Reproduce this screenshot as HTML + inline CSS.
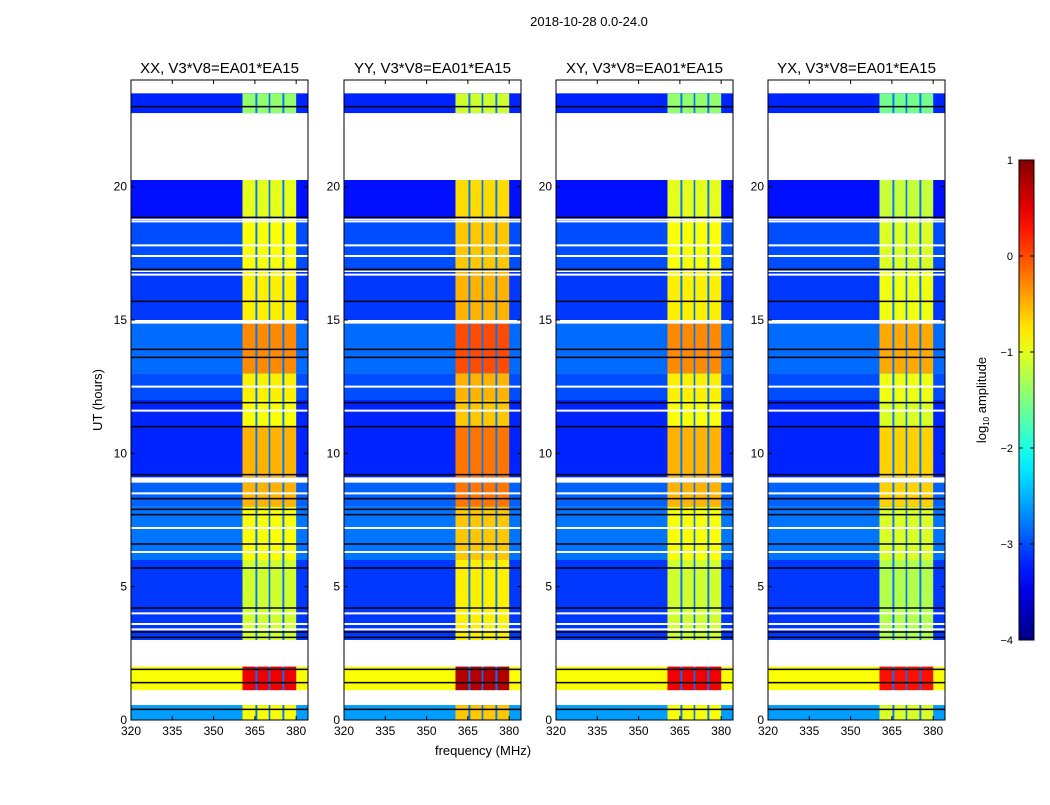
<!DOCTYPE html>
<html><head><meta charset="utf-8"><style>
body{margin:0;background:#fff;}
svg text{font-family:"Liberation Sans","DejaVu Sans",sans-serif;}
</style></head><body>
<svg id="fig" width="1050" height="800" viewBox="0 0 1050 800">
<defs>
<linearGradient id="jet" x1="0" y1="1" x2="0" y2="0"></linearGradient>
</defs>
<text x="589" y="26" font-size="13" text-anchor="middle">2018-10-28 0.0-24.0</text>
<g id="panels"></g>
<text x="483" y="755" font-size="13" text-anchor="middle">frequency (MHz)</text>
<text transform="translate(102,400) rotate(-90)" font-size="13" text-anchor="middle">UT (hours)</text>
<g>
<rect x="1019" y="160" width="15" height="480" fill="url(#jet)" stroke="#000" stroke-width="1"/>
<g id="cbticks"></g>
<text transform="translate(986,400) rotate(-90)" font-size="13" text-anchor="middle">log<tspan font-size="8" dy="3">10</tspan><tspan dy="-3"> amplitude</tspan></text>
</g>
</svg>
<script>
const panelTitles=["XX, V3*V8=EA01*EA15","YY, V3*V8=EA01*EA15","XY, V3*V8=EA01*EA15","YX, V3*V8=EA01*EA15"];
const panelLeft=[131,344,556,768];
const rfiOffset=[0,0.3,0,-0.15];
const xTicks=[320,335,350,365,380];
const yTicks=[0,5,10,15,20];
const cbTicks=[1,0,-1,-2,-3,-4];
// time segments: [start hour, end hour, background log amp, rfi log amp]
const segStart=[22.76,18.80,16.85,15.00,13.00,12.00,11.00,9.10,8.00,6.00,3.00,1.12,0.00];
const segEnd  =[23.50,20.25,18.75,16.80,14.90,13.00,12.00,11.00,8.90,8.00,6.00,2.00,0.56];
const segBg   =[-3.2,-3.3,-3.0,-3.1,-2.85,-3.0,-3.2,-3.2,-2.9,-2.8,-3.1,-0.9,-2.6];
const segRfi  =[-1.4,-1.0,-0.9,-0.8,-0.3,-0.8,-0.9,-0.5,-0.5,-0.9,-1.1,0.45,-0.9];
// RFI channel blocks (MHz)
const rfiStart=[360.5,365.9,370.6,375.7];
const rfiEnd  =[365.2,370.0,375.0,380.0];
const blackLines=[23.0,18.85,16.9,15.7,13.9,13.6,11.9,11.0,9.2,8.3,7.9,7.7,6.6,5.7,4.2,3.3,3.1,1.9,1.4,0.4];
const whiteLines=[18.7,17.8,17.4,16.7,14.9,12.5,11.6,8.5,7.2,6.3,4.0,3.6,3.4];

const W=177,TOP=80,BOT=720,F0=320,F1=384.3,T0=0,T1=24;
const NS='http://www.w3.org/2000/svg';
function jet(v){let t=Math.max(0,Math.min(1,(v+4)/5));
 const r=Math.max(0,Math.min(1,1.5-Math.abs(4*t-3))),g=Math.max(0,Math.min(1,1.5-Math.abs(4*t-2))),b=Math.max(0,Math.min(1,1.5-Math.abs(4*t-1)));
 return `rgb(${Math.round(r*255)},${Math.round(g*255)},${Math.round(b*255)})`;}
function el(tag,attrs,parent){const e=document.createElementNS(NS,tag);for(const k in attrs)e.setAttribute(k,attrs[k]);parent.appendChild(e);return e;}
const grad=document.getElementById('jet');
for(let i=0;i<=20;i++){el('stop',{offset:i/20,'stop-color':jet(-4+5*i/20)},grad);}
const yS=t=>BOT-(t-T0)/(T1-T0)*(BOT-TOP);
const root=document.getElementById('panels');
panelTitles.forEach((title,p)=>{
 const L=panelLeft[p];const xS=f=>L+(f-F0)/(F1-F0)*W;
 const g=el('g',{},root);
 
 
 const hm=el('g',{},g);
 
 
 segStart.forEach((s,i)=>{
  const y0=yS(segEnd[i]),y1=yS(s);
  const r=el('rect',{x:L,y:y0,width:W,height:y1-y0,fill:jet(segBg[i])},hm);
  
  
  const bl=el('rect',{x:xS(rfiStart[0]),y:y0,width:xS(rfiEnd[3])-xS(rfiStart[0]),height:y1-y0,fill:jet(-2.8)},hm);
  
  
  rfiStart.forEach((f,k)=>{
   const c=el('rect',{x:xS(f),y:y0,width:xS(rfiEnd[k])-xS(f),height:y1-y0,fill:jet(segRfi[i]+rfiOffset[p])},hm);
   
   
  });
 });
 blackLines.forEach(t=>{const l=el('line',{x1:L,x2:L+W,y1:yS(t),y2:yS(t),stroke:'#000','stroke-width':1.5},hm);
  });
 whiteLines.forEach(t=>{const l=el('line',{x1:L,x2:L+W,y1:yS(t),y2:yS(t),stroke:'#fff','stroke-width':2},hm);
  });
 const fr=el('rect',{x:L,y:TOP,width:W,height:BOT-TOP,fill:'none',stroke:'#000','stroke-width':1},g);
 
 const tt=el('text',{x:L+W/2,y:73,'font-size':15,'text-anchor':'middle'},g);tt.textContent=title;
 
 xTicks.forEach(f=>{const x=xS(f);
  el('line',{x1:x,x2:x,y1:BOT,y2:BOT-4,stroke:'#000'},g);el('line',{x1:x,x2:x,y1:TOP,y2:TOP+4,stroke:'#000'},g);
  const t=el('text',{x:x,y:BOT+15,'font-size':12,'text-anchor':'middle'},g);t.textContent=f;
  });
 yTicks.forEach(v=>{const y=yS(v);
  el('line',{x1:L,x2:L+4,y1:y,y2:y,stroke:'#000'},g);el('line',{x1:L+W,x2:L+W-4,y1:y,y2:y,stroke:'#000'},g);
  const t=el('text',{x:L-4,y:y+4,'font-size':12,'text-anchor':'end'},g);t.textContent=v;
  });
});
const cb=document.getElementById('cbticks');
cbTicks.forEach(v=>{const y=640-(v+4)/5*480;
 el('line',{x1:1019,x2:1023,y1:y,y2:y,stroke:'#000'},cb);el('line',{x1:1034,x2:1030,y1:y,y2:y,stroke:'#000'},cb);
 const t=el('text',{x:1013,y:y+4,'font-size':11,'text-anchor':'end'},cb);t.textContent=(v<0?'\u2212'+(-v):v);
 });
</script>
</body></html>
